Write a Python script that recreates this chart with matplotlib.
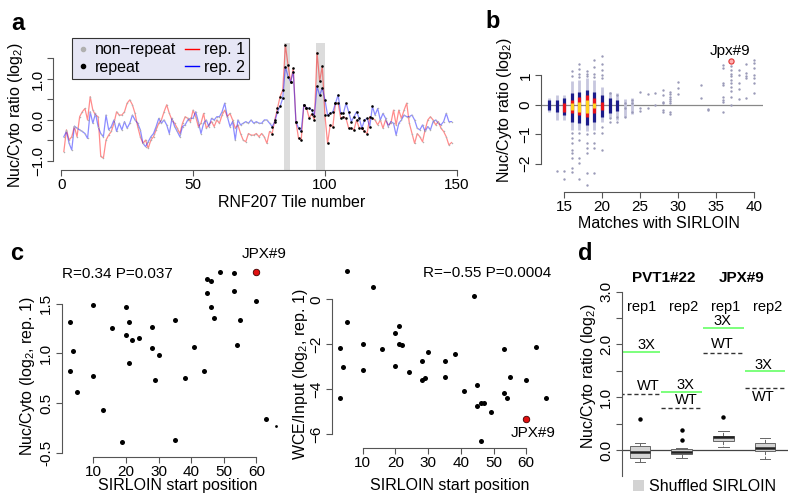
import numpy as np
import matplotlib
matplotlib.use('Agg')
import matplotlib.pyplot as plt
from matplotlib.lines import Line2D
from matplotlib.patches import Patch

plt.rcParams['font.family'] = ['Liberation Sans', 'DejaVu Sans']
plt.rcParams['mathtext.fontset'] = 'custom'
plt.rcParams['mathtext.rm'] = 'Liberation Sans'
plt.rcParams['mathtext.it'] = 'Liberation Sans:italic'
plt.rcParams['mathtext.default'] = 'regular'
plt.rcParams['font.size'] = 10

# ---- panel a: RNF207 tiles ----
rep1 = [-0.77, -0.24, -0.49, -0.41, -0.16, -0.41, 0.08, 0.20, 0.28, 0.00,
        0.57, 0.24, 0.12, 0.08, -0.89, -0.93, -0.49, -0.37, -0.28, -0.08,
        0.20, 0.12, 0.12, 0.20, 0.41, 0.49, 0.37, 0.16, -0.16, -0.41,
        -0.57, -0.49, -0.69, -0.49, -0.41, -0.24, -0.08, 0.00, 0.20, 0.37,
        0.16, 0.00, -0.08, -0.20, -0.33, -0.08, 0.08, 0.04, -0.04, 0.24,
        0.08, -0.16, -0.08, 0.16, -0.20, -0.12, -0.04, -0.16, 0.00, -0.08,
        0.12, 0.24, 0.08, 0.16, 0.00, -0.20, -0.12, -0.33, -0.49, -0.53,
        -0.33, -0.37, -0.37, -0.33, -0.41, -0.33, -0.41, -0.57, -0.28, -0.33,
        0.00, 0.28, 0.57, 0.73, 1.83, 1.34, 0.93, 1.26, -0.04, -0.45,
        -0.49, 0.37, 0.30, 0.05, 0.15, 0.00, 1.64, 0.95, 1.31, 0.12,
        -0.57, -0.12, -0.16, 0.41, 0.41, 0.04, 0.08, 0.04, -0.20, -0.20,
        -0.24, 0.00, -0.20, -0.20, -0.28, -0.33, 0.08, 0.04, 0.00, -0.12,
        0.00, -0.20, 0.00, -0.12, -0.08, 0.24, -0.12, 0.24, 0.04, 0.24,
        0.41, -0.08, -0.33, -0.57, -0.33, -0.41, -0.53, -0.24, 0.00, 0.08,
        0.00, -0.12, -0.04, -0.20, -0.28, -0.41, -0.61, -0.55]
rep2 = [-0.41, -0.28, -0.57, -0.73, -0.15, -0.20, -0.24, -0.28, -0.33, -0.45,
        0.20, -0.08, 0.16, -0.16, -0.33, -0.41, 0.12, -0.24, -0.16, 0.00,
        -0.28, -0.08, -0.24, -0.04, -0.20, -0.08, 0.12, 0.00, -0.08, -0.24,
        -0.57, -0.65, -0.53, -0.41, -0.33, -0.16, 0.04, -0.08, 0.00, -0.12,
        -0.33, 0.04, -0.16, -0.28, -0.41, -0.16, -0.12, 0.00, 0.04, 0.04,
        0.20, -0.04, -0.33, -0.08, 0.00, -0.16, 0.04, 0.00, 0.08, 0.08,
        0.20, 0.41, 0.08, -0.16, -0.04, -0.49, 0.00, -0.12, -0.08, -0.04,
        -0.08, 0.00, -0.08, -0.04, -0.08, -0.08, 0.00, 0.00, -0.08, -0.16,
        -0.04, 0.20, 0.33, 0.53, 1.30, 1.06, 0.93, 1.18, -0.04, -0.20,
        -0.28, 0.37, 0.30, 0.28, 0.25, 0.10, 0.82, 0.60, 0.78, 0.49,
        0.12, 0.16, 0.20, 0.41, 0.61, 0.16, 0.16, 0.41, 0.20, -0.04,
        0.08, 0.20, 0.04, -0.20, 0.00, 0.04, -0.16, 0.33, 0.12, 0.28,
        0.00, 0.16, 0.04, -0.16, -0.04, -0.08, -0.37, -0.08, 0.00, 0.12,
        0.08, 0.08, 0.12, 0.00, -0.20, -0.24, -0.12, -0.28, -0.16, -0.24,
        -0.04, 0.00, -0.08, -0.12, -0.04, 0.16, -0.04, -0.04]
repeat_tiles = (80, 118)
shaded_tiles = [(84.5, 86.8), (96.6, 100.0)]

# ---- panel b: matches with SIRLOIN ----
core_cols = [13, 14, 15, 16, 17, 18, 19, 20, 21, 22, 23, 24]
halo_lo = [-0.25, -0.50, -0.50, -0.85, -0.85, -0.90, -0.85, -0.60, -0.45, -0.50, -0.40, -0.30]
halo_hi = [0.25, 0.35, 0.35, 0.80, 0.85, 0.90, 0.85, 0.60, 0.45, 0.40, 0.20, 0.25]
navy_lo = [-0.17, -0.23, -0.34, -0.57, -0.63, -0.68, -0.57, -0.40, -0.28, -0.20, np.nan, np.nan]
navy_hi = [0.17, 0.17, 0.23, 0.40, 0.45, 0.51, 0.45, 0.34, 0.23, 0.15, np.nan, np.nan]
red_lo = [np.nan, np.nan, -0.23, -0.28, -0.34, -0.40, -0.28, -0.17, np.nan, np.nan, np.nan, np.nan]
red_hi = [np.nan, np.nan, 0.06, 0.17, 0.28, 0.34, 0.23, 0.11, np.nan, np.nan, np.nan, np.nan]
yel_lo = [np.nan, np.nan, np.nan, -0.17, -0.23, -0.28, -0.10, np.nan, np.nan, np.nan, np.nan, np.nan]
yel_hi = [np.nan, np.nan, np.nan, 0.06, 0.11, 0.17, 0.06, np.nan, np.nan, np.nan, np.nan, np.nan]
b_outliers = {
    14: [-2.24],
    15: [-2.24, -2.53],
    16: [1.17, 0.97, -0.97, -1.14, -1.31, -1.53, -1.65, -1.82, -2.16, -2.27],
    17: [1.40, 1.22, 1.06, 0.95, -0.95, -1.19, -1.82, -1.97, -2.51],
    18: [1.17, 1.06, 0.97, -1.00, -1.31, -1.48, -1.65, -2.33, -2.73],
    19: [1.52, 1.30, 1.06, 0.95, -0.97, -1.31, -1.48, -2.33],
    20: [1.65, 1.40, 1.19, 1.02, 0.91, -0.74, -0.97, -1.53],
    21: [0.40, -0.45, -0.57],
    22: [0.34, -0.40, -0.57],
    23: [0.08, -0.11, -0.40],
    24: [0.17, 0.06, -0.23],
    25: [0.45, -0.11, -0.20],
    26: [0.37, -0.11],
    27: [0.42, 0.00],
    28: [0.51, 0.34, 0.11, 0.05, -0.17, -0.23],
    29: [0.43, 0.36, 0.28, 0.20, 0.14, 0.06, -0.23, -0.32],
    30: [0.78, 0.57, 0.36],
    33: [0.68, 0.25],
    34: [-0.15, -0.19],
    36: [1.36, 1.25, 0.74, 0.68, 0.28, 0.17, 0.11, -0.25],
    37: [1.31, 1.19, 1.05, 0.97, 0.85, 0.74, 0.60, 0.48, 0.26, 0.00],
    38: [1.19, 1.02, 0.74, 0.53, 0.19],
    39: [1.40, 1.08, 0.99, 0.91, 0.25],
    40: [1.53, 1.42, 1.25, 1.02, 0.91, 0.74, 0.42],
}
jpx_b = (37, 1.48)

# ---- panel c: SIRLOIN start position ----
c1_x = [2.8, 3.9, 2.8, 4.9, 10, 10, 12.9, 15.8, 18.9, 19.9, 19.9, 21, 21, 22, 23.9, 27.9, 27.9, 30,
        29, 35, 35, 38, 41, 44, 45, 45, 46.1, 46.1, 47.1, 49, 53, 53, 55.1, 54.1, 60, 63.1]
c1_y = [1.31, 1.02, 0.82, 0.61, 1.49, 0.77, 0.43, 1.25, 0.11, 1.47, 1.18, 1.31, 0.90, 1.13, 1.15, 1.26,
        1.05, 0.98, 0.73, 1.33, 0.13, 0.75, 1.06, 0.82, 1.61, 1.75, 1.73, 1.47, 1.36, 1.82, 1.81, 1.63,
        1.34, 1.08, 1.53, 0.34]
c1_small = (66.1, 0.27)
c1_jpx = (60, 1.82)
c2_x = [3.06, 4.1, 3.06, 5.1, 5.3, 10, 10, 13.1, 16, 20, 20, 21, 21, 22, 24.1, 28.1, 28.1, 29.1, 30.1,
        35.1, 35.1, 38.1, 41, 44.1, 45.1, 45.1, 46.1, 47.1, 46.1, 49.1, 53.1, 53.1, 54.1, 55.1, 60, 63.1, 66]
c2_y = [-2.15, -3.02, -4.40, -0.99, 1.26, -1.96, -3.14, 0.56, -2.22, -1.48, -2.95, -1.19, -2.00, -2.03,
        -3.21, -2.73, -3.56, -3.47, -2.33, -2.74, -3.44, -2.44, -4.06, 0.15, -3.79, -4.73, -4.59, -4.59,
        -6.28, -4.99, -2.22, -4.18, -4.39, -3.44, -3.59, -2.13, -4.39]
c2_jpx = (60, -5.33)

# ---- panel d: boxplots + WT / 3X ----
d_med = [-0.03, -0.03, 0.24, 0.03]
d_q1 = [-0.16, -0.08, 0.17, -0.02]
d_q3 = [0.08, 0.01, 0.27, 0.14]
d_wlo = [-0.22, -0.16, 0.05, -0.18]
d_whi = [0.13, 0.04, 0.36, 0.22]
d_fliers = [[0.59], [0.37, 0.18], [0.63], []]
d_3x = [1.85, 1.09, 2.31, 1.49]
d_wt = [1.06, 0.79, 1.84, 1.17]
d_rep_labels = ['rep1', 'rep2', 'rep1', 'rep2']
d_groups = ['PVT1#22', 'JPX#9']

AX_COL = '#555555'


def r_style(ax, xb, yb):
    # R-like axes: only left/bottom lines between the outer ticks
    for s in ['top', 'right']:
        ax.spines[s].set_visible(False)
    ax.spines['left'].set_bounds(*yb)
    ax.spines['bottom'].set_bounds(*xb)
    for s in ['left', 'bottom']:
        ax.spines[s].set_color(AX_COL)
        ax.spines[s].set_linewidth(0.8)
    ax.tick_params(direction='out', length=4, width=0.8, color=AX_COL, labelsize=11, pad=2)
    ax.tick_params(axis='y', labelrotation=90)
    for lbl in ax.get_yticklabels():
        lbl.set_va('center')


fig = plt.figure(figsize=(8, 5), dpi=100)

# ================= a =================
ax = fig.add_axes([0.0666, 0.66, 0.511, 0.2534])
t = np.arange(1, len(rep1) + 1)
r1 = np.array(rep1)
r2 = np.array(rep2)
for lo, hi in shaded_tiles:
    ax.axvspan(lo, hi, color='#dcdcdc', lw=0, zorder=0)
ax.plot(t, r1, color='red', alpha=0.45, lw=0.9, zorder=2)
ax.plot(t, r2, color='blue', alpha=0.45, lw=0.9, zorder=2)
rep_mask = (t >= repeat_tiles[0]) & (t <= repeat_tiles[1])
for r in (r1, r2):
    ax.scatter(t[~rep_mask], r[~rep_mask], s=1.2, color='#b0b0b0', lw=0, zorder=3)
    ax.scatter(t[rep_mask], r[rep_mask], s=3.5, color='black', lw=0, zorder=3)
ax.set_xlim(-3, 152)
ax.set_ylim(-1.22, 1.87)
ax.set_xticks([0, 50, 100, 150])
ax.set_yticks([-1.0, -0.5, 0.0, 0.5, 1.0, 1.5])
ax.set_yticklabels(['\u22121.0', '', '0.0', '', '1.0', ''])
r_style(ax, (0, 150), (-1.0, 1.5))
ax.set_xlabel('RNF207 Tile number', fontsize=11.5)
ax.xaxis.set_label_coords(0.582, -0.2)
ax.set_ylabel('Nuc/Cyto ratio (log$_2$)', fontsize=11.5)
ax.yaxis.set_label_coords(-0.068, 0.43)
handles = [Line2D([], [], marker='o', ls='', color='#b0b0b0', ms=3),
           Line2D([], [], marker='o', ls='', color='black', ms=3),
           Line2D([], [], color='red', lw=1),
           Line2D([], [], color='blue', lw=1)]
leg = ax.legend(handles, ['non\u2212repeat', 'repeat', 'rep. 1', 'rep. 2'], ncol=2,
                loc='upper left', bbox_to_anchor=(0.046, 1.04), borderaxespad=0,
                fontsize=11.5, handlelength=0.9, handletextpad=0.3, columnspacing=0.5,
                labelspacing=0.15, borderpad=0.25, fancybox=False, framealpha=1)
leg.get_frame().set_facecolor('#e6e6f5')
leg.get_frame().set_edgecolor('#333333')
leg.get_frame().set_linewidth(0.8)

# ================= b =================
ax = fig.add_axes([0.676, 0.617, 0.2775, 0.279])
ax.axhline(0, color='#888888', lw=0.9, zorder=1)
ax.vlines(core_cols, halo_lo, halo_hi, color='#c6c6de', lw=2.0, zorder=2)
ax.vlines(core_cols, navy_lo, navy_hi, color='#1c1c8a', lw=2.3, zorder=3)
ax.vlines(core_cols, red_lo, red_hi, color='#e8141c', lw=2.3, zorder=4)
ax.vlines(core_cols, yel_lo, yel_hi, color='#ffd21e', lw=2.3, zorder=5)
for col, ys in b_outliers.items():
    ax.scatter([col] * len(ys), ys, s=3, color='#9a9ab8', lw=0, zorder=2)
ax.scatter([jpx_b[0]], [jpx_b[1]], s=14, facecolor='#ffb0b0', edgecolor='#e03030', lw=0.8, zorder=6)
ax.text(jpx_b[0] - 0.1, jpx_b[1] + 0.12, 'Jpx#9', ha='center', va='bottom', fontsize=11)
ax.set_xlim(11.93, 41.2)
ax.set_ylim(-2.95, 1.8)
ax.set_xticks([15, 20, 25, 30, 35, 40])
ax.set_yticks([-2, -1, 0, 1])
ax.set_yticklabels(['\u22122', '\u22121', '0', '1'])
r_style(ax, (15, 40), (-2, 1))
ax.set_xlabel('Matches with SIRLOIN', fontsize=11.5)
ax.xaxis.set_label_coords(0.53, -0.175)
ax.set_ylabel('Nuc/Cyto ratio (log$_2$)', fontsize=11.5)
ax.yaxis.set_label_coords(-0.12, 0.58)

# ================= c (left) =================
ax = fig.add_axes([0.0771, 0.086, 0.2784, 0.3846])
ax.scatter(c1_x, c1_y, s=13, color='black', lw=0, zorder=3)
ax.scatter([c1_small[0]], [c1_small[1]], s=4, color='black', lw=0, zorder=3)
ax.scatter([c1_jpx[0]], [c1_jpx[1]], s=22, color='#e01010', edgecolor='#400000', lw=0.6, zorder=4)
ax.text(62.3, 1.93, 'JPX#9', ha='center', va='bottom', fontsize=11)
ax.text(17.5, 1.80, 'R=0.34 P=0.037', ha='center', va='center', fontsize=11)
ax.set_xlim(0.3, 68.6)
ax.set_ylim(-0.04, 1.89)
ax.set_xticks([10, 20, 30, 40, 50, 60])
ax.set_yticks([0.0, 0.5, 1.0, 1.5])
ax.set_yticklabels(['-0.5', '0.5', '1.0', '1.5'])
r_style(ax, (10, 60), (0.0, 1.5))
ax.set_xlabel('SIRLOIN start position', fontsize=11.5)
ax.xaxis.set_label_coords(0.52, -0.11)
ax.set_ylabel('Nuc/Cyto (log$_2$, rep. 1)', fontsize=11.5)
ax.yaxis.set_label_coords(-0.111, 0.42)

# ================= c (right) =================
ax = fig.add_axes([0.4146, 0.105, 0.2779, 0.3664])
ax.scatter(c2_x, c2_y, s=13, color='black', lw=0, zorder=3)
ax.scatter([c2_jpx[0]], [c2_jpx[1]], s=22, color='#e01010', edgecolor='#400000', lw=0.6, zorder=4)
ax.text(62.2, -5.93, 'JPX#9', ha='center', va='center', fontsize=11)
ax.text(48, 1.16, 'R=\u22120.55 P=0.0004', ha='center', va='center', fontsize=11)
ax.set_xlim(0.5, 68.5)
ax.set_ylim(-6.58, 1.56)
ax.set_xticks([10, 20, 30, 40, 50, 60])
ax.set_yticks([-6, -4, -2, 0])
ax.set_yticklabels(['\u22126', '\u22124', '\u22122', '0'])
r_style(ax, (10, 60), (-6, 0))
ax.set_xlabel('SIRLOIN start position', fontsize=11.5)
ax.xaxis.set_label_coords(0.532, -0.165)
ax.set_ylabel('WCE/Input (log$_2$, rep. 1)', fontsize=11.5)
ax.yaxis.set_label_coords(-0.098, 0.40)

# ================= d =================
ax = fig.add_axes([0.777, 0.042, 0.2085, 0.38])
pos = np.arange(1, len(d_med) + 1)
stats = [dict(med=d_med[i], q1=d_q1[i], q3=d_q3[i], whislo=d_wlo[i], whishi=d_whi[i],
              fliers=d_fliers[i]) for i in range(len(d_med))]
ax.bxp(stats, positions=pos, widths=0.5, patch_artist=True,
       boxprops=dict(facecolor='#d3d3d3', edgecolor='#666666', lw=0.7),
       medianprops=dict(color='#222222', lw=1.8),
       whiskerprops=dict(color='#666666', lw=0.7, ls='--'),
       capprops=dict(color='#666666', lw=0.7),
       flierprops=dict(marker='o', markersize=2.2, markerfacecolor='black', markeredgecolor='black'))
ax.axhline(0, color='#444444', lw=0.9, zorder=1)
for i, p in enumerate(pos):
    ax.hlines(d_3x[i], p - 0.49, p + 0.49, color='#66ff66', lw=1.2)
    ax.hlines(d_wt[i], p - 0.49, p + 0.49, color='#333333', lw=1.0, linestyles=(0, (3, 2)))
    ax.text(p + 0.05, 2.70, d_rep_labels[i], ha='center', va='center', fontsize=10.5)
# 3X / WT labels beside their lines
ax.text(1.15, d_3x[0] + 0.14, '3X', ha='center', va='center', fontsize=10.5)
ax.text(1.2, d_wt[0] + 0.16, 'WT', ha='center', va='center', fontsize=10.5)
ax.text(2.1, d_3x[1] + 0.14, '3X', ha='center', va='center', fontsize=10.5)
ax.text(2.1, d_wt[1] + 0.16, 'WT', ha='center', va='center', fontsize=10.5)
ax.text(2.97, d_3x[2] + 0.13, '3X', ha='center', va='center', fontsize=10.5)
ax.text(2.97, d_wt[2] + 0.16, 'WT', ha='center', va='center', fontsize=10.5)
ax.text(3.97, d_3x[3] + 0.12, '3X', ha='center', va='center', fontsize=10.5)
ax.text(3.97, d_wt[3] - 0.16, 'WT', ha='center', va='center', fontsize=10.5)
ax.text(1.56, 3.26, d_groups[0], ha='center', va='center', fontsize=11, fontweight='bold', clip_on=False)
ax.text(3.44, 3.26, d_groups[1], ha='center', va='center', fontsize=11, fontweight='bold', clip_on=False)
ax.set_xlim(0.56, 4.56)
ax.set_ylim(-0.55, 3.05)
ax.set_yticks([0, 0.5, 1.0, 1.5, 2.0, 2.5, 3.0])
ax.set_yticklabels(['0.0', '', '1.0', '', '2.0', '', '3.0'])
r_style(ax, (0.56, 4.56), (-0.5, 3.0))
ax.spines['bottom'].set_visible(False)
ax.set_xticks([])
ax.set_ylabel('Nuc/Cyto ratio (log$_2$)', fontsize=11.5)
ax.yaxis.set_label_coords(-0.139, 0.54)
ax.legend([Patch(facecolor='#d3d3d3', edgecolor='none')], ['Shuffled SIRLOIN'],
          loc='upper left', bbox_to_anchor=(0.03, 0.035), borderaxespad=0, frameon=False,
          fontsize=11.5, handlelength=0.7, handleheight=0.7, handletextpad=0.3)

# panel letters
for letter, x, y in [('a', 18, 23), ('b', 493, 22), ('c', 17, 253), ('d', 585, 253)]:
    fig.text(x / 800, 1 - y / 500, letter, fontsize=17, fontweight='bold', ha='center', va='center')

fig.savefig('out.png', dpi=100)
